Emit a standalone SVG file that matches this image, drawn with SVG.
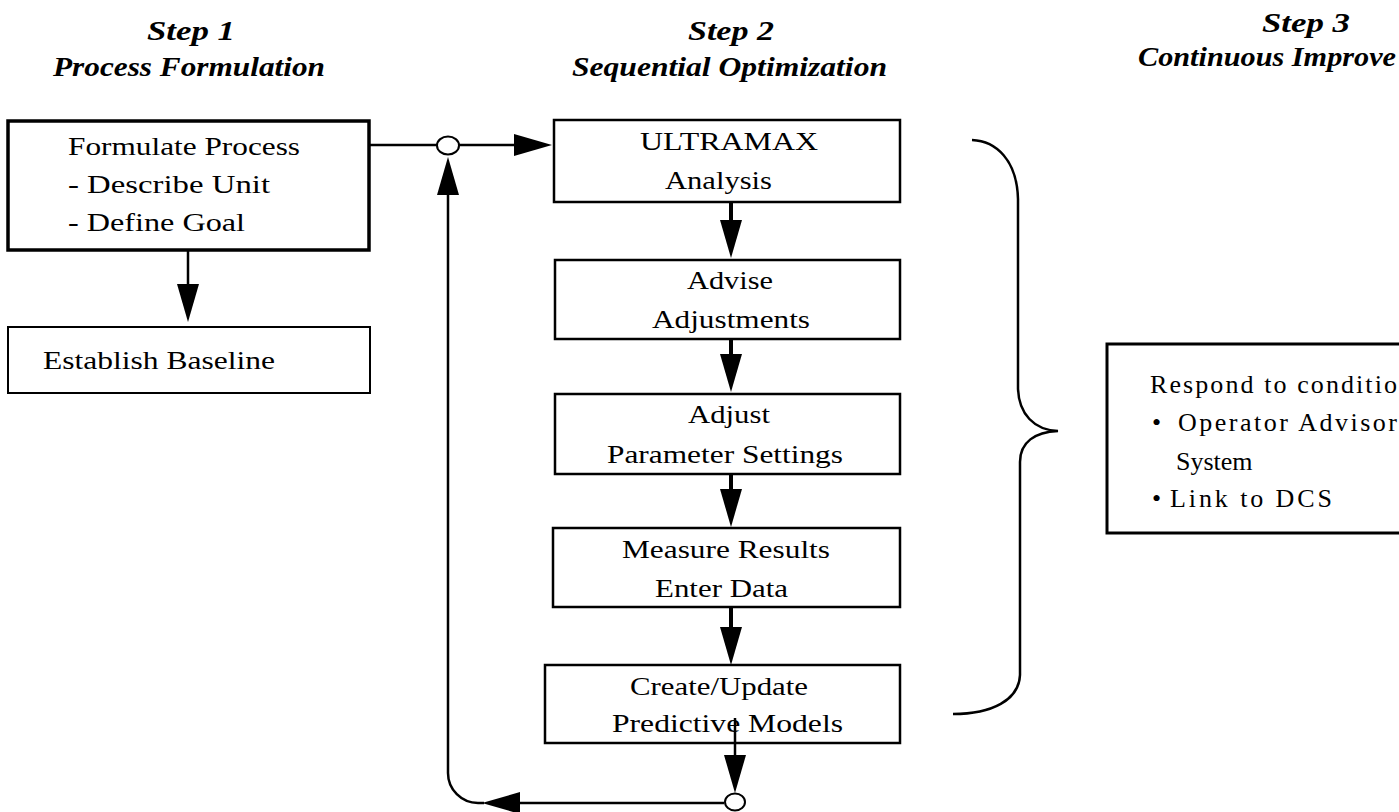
<svg xmlns="http://www.w3.org/2000/svg" width="1399" height="812" viewBox="0 0 1399 812">
<style>
  .bg{fill:#fff}
  .box{fill:#fff;stroke:#000;stroke-width:2.5}
  .thick{stroke-width:3.5}
  .thin{stroke-width:2}
  .t{font-family:"Liberation Serif","Times New Roman",serif;font-size:25px;fill:#000}
  .s3{font-size:26px}
  .h{font-family:"Liberation Serif","Times New Roman",serif;font-weight:bold;font-style:italic;font-size:27px;fill:#000}
  .ln{fill:none;stroke:#000;stroke-width:2.5}
  .sh{fill:none;stroke:#000;stroke-width:4}
  .node{fill:#fff;stroke:#000;stroke-width:2}
</style>
<defs>
  <marker id="ah" markerUnits="userSpaceOnUse" markerWidth="40" markerHeight="26" viewBox="0 0 40 26" refX="28" refY="13" orient="auto">
    <path d="M0,2 L38,13 L0,24 Z" fill="#000"/>
  </marker>
</defs>
<rect class="bg" x="0" y="0" width="1399" height="812"/>

<g id="titles">
  <text class="h" x="147" y="40" textLength="88" lengthAdjust="spacingAndGlyphs">Step 1</text>
  <text class="h" x="53" y="76" textLength="272" lengthAdjust="spacingAndGlyphs">Process Formulation</text>
  <text class="h" x="688" y="40" textLength="86" lengthAdjust="spacingAndGlyphs">Step 2</text>
  <text class="h" x="572" y="76" textLength="315" lengthAdjust="spacingAndGlyphs">Sequential Optimization</text>
  <text class="h" x="1262" y="32" textLength="88" lengthAdjust="spacingAndGlyphs">Step 3</text>
  <text class="h" x="1138" y="66" textLength="258" lengthAdjust="spacingAndGlyphs">Continuous Improve</text>
</g>

<g id="connectors">
  <line class="ln" x1="188" y1="250" x2="188" y2="312" marker-end="url(#ah)"/>
  <line class="ln" x1="369" y1="145" x2="437" y2="145"/>
  <line class="ln" x1="459" y1="145" x2="542" y2="145" marker-end="url(#ah)"/>
  <line class="sh" x1="731" y1="202" x2="731" y2="248" marker-end="url(#ah)"/>
  <line class="sh" x1="731" y1="339" x2="731" y2="382" marker-end="url(#ah)"/>
  <line class="sh" x1="731" y1="474" x2="731" y2="517" marker-end="url(#ah)"/>
  <line class="sh" x1="731" y1="607" x2="731" y2="655" marker-end="url(#ah)"/>
  <line class="ln" x1="735" y1="732" x2="735" y2="783" marker-end="url(#ah)"/>
  <line class="ln" x1="724" y1="803" x2="492" y2="803" marker-end="url(#ah)"/>
  <path class="ln" d="M484,803 L478,803 A30,30 0 0 1 448,773 L448,167" marker-end="url(#ah)"/>
  <ellipse id="junction-top" class="node" cx="448" cy="145.5" rx="11" ry="9"/>
  <ellipse id="junction-bottom" class="node" cx="735" cy="802" rx="10" ry="8.5"/>
</g>

<g id="brace">
  <path class="ln" d="M972,140 C996,141 1017,160 1018,199 L1018,389 C1019,414 1034,430 1058,431 C1035,432 1020,442 1020,462 L1020,675 C1019,700 992,714 953,714"/>
</g>

<g id="formulate">
  <rect class="box thick" x="8" y="121" width="361" height="129"/>
  <text class="t" x="68" y="155" textLength="232" lengthAdjust="spacingAndGlyphs">Formulate Process</text>
  <text class="t" x="68" y="193" textLength="202" lengthAdjust="spacingAndGlyphs">-  Describe Unit</text>
  <text class="t" x="68" y="231" textLength="177" lengthAdjust="spacingAndGlyphs">-  Define Goal</text>
</g>

<g id="baseline">
  <rect class="box thin" x="8" y="327" width="362" height="66"/>
  <text class="t" x="43" y="369" textLength="232" lengthAdjust="spacingAndGlyphs">Establish Baseline</text>
</g>

<g id="ultramax">
  <rect class="box" x="554" y="120" width="346" height="82"/>
  <text class="t" x="640" y="150" textLength="178" lengthAdjust="spacingAndGlyphs">ULTRAMAX</text>
  <text class="t" x="665" y="189" textLength="107" lengthAdjust="spacingAndGlyphs">Analysis</text>
</g>

<g id="advise">
  <rect class="box" x="555" y="260" width="345" height="79"/>
  <text class="t" x="687" y="289" textLength="86" lengthAdjust="spacingAndGlyphs">Advise</text>
  <text class="t" x="652" y="328" textLength="158" lengthAdjust="spacingAndGlyphs">Adjustments</text>
</g>

<g id="adjust">
  <rect class="box" x="555" y="394" width="345" height="80"/>
  <text class="t" x="688" y="423" textLength="82" lengthAdjust="spacingAndGlyphs">Adjust</text>
  <text class="t" x="607" y="463" textLength="236" lengthAdjust="spacingAndGlyphs">Parameter Settings</text>
</g>

<g id="measure">
  <rect class="box" x="553" y="528" width="347" height="79"/>
  <text class="t" x="622" y="558" textLength="208" lengthAdjust="spacingAndGlyphs">Measure Results</text>
  <text class="t" x="655" y="597" textLength="133" lengthAdjust="spacingAndGlyphs">Enter Data</text>
</g>

<g id="models">
  <rect class="box" x="545" y="665" width="355" height="78"/>
  <text class="t" x="630" y="695" textLength="178" lengthAdjust="spacingAndGlyphs">Create/Update</text>
  <text class="t" x="612" y="732" textLength="231" lengthAdjust="spacingAndGlyphs">Predictive Models</text>
</g>
<line class="ln" x1="735" y1="718" x2="735" y2="743"/>

<g id="respond">
  <rect class="box" x="1107" y="344" width="330" height="189" style="stroke-width:3"/>
  <text class="t s3" x="1150" y="393" textLength="247" lengthAdjust="spacing">Respond to conditio</text>
  <text class="t s3" x="1152" y="431">•</text>
  <text class="t s3" x="1178" y="431" textLength="219" lengthAdjust="spacing">Operator Advisor</text>
  <text class="t s3" x="1176" y="470">System</text>
  <text class="t s3" x="1152" y="507">•</text>
  <text class="t s3" x="1170" y="507" textLength="162" lengthAdjust="spacing">Link to DCS</text>
</g>
</svg>
